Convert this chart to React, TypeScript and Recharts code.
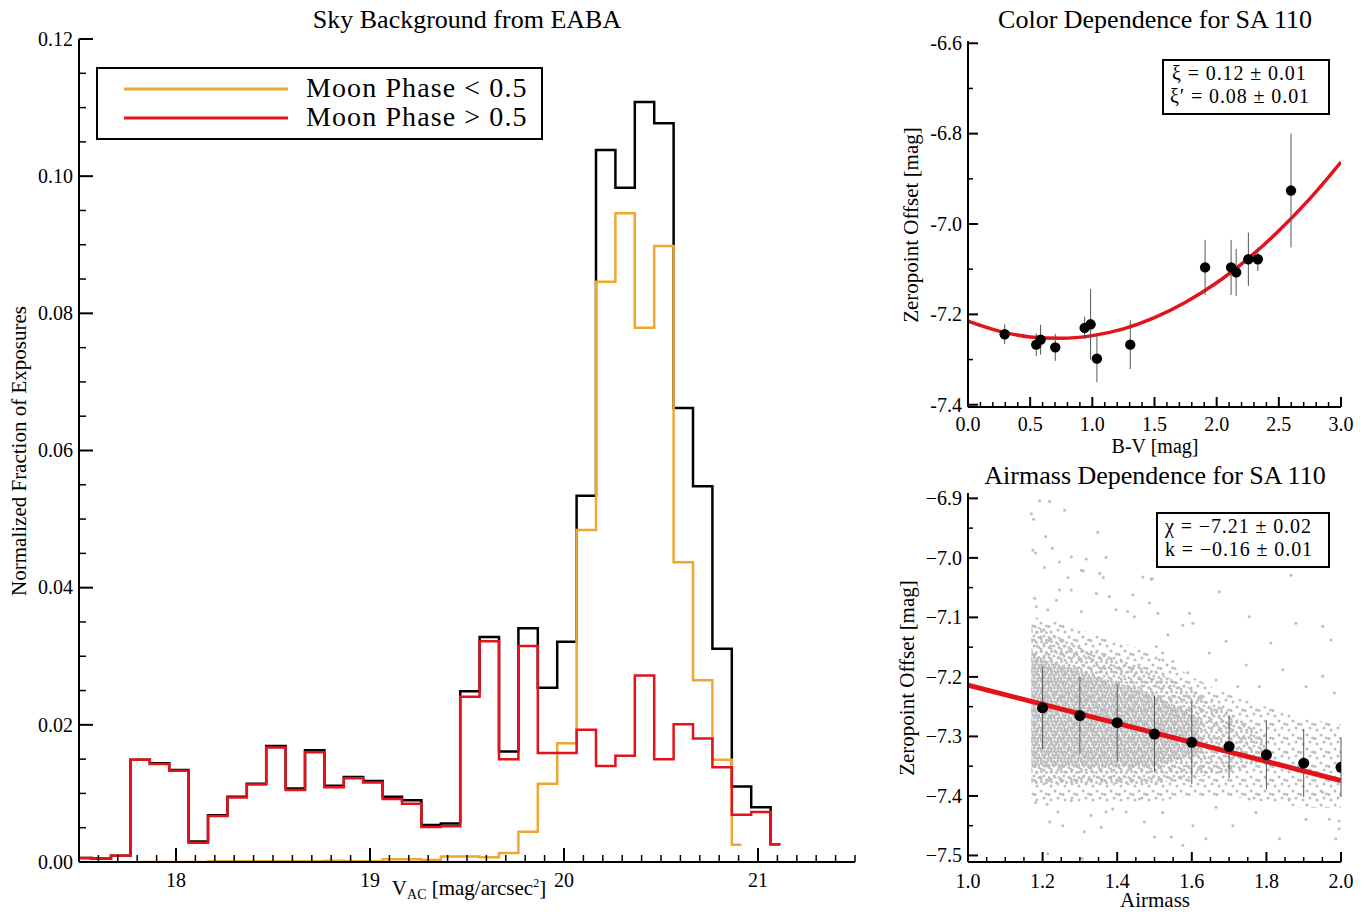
import React from 'react';
import {
  LineChart, Line, ComposedChart, Scatter, ErrorBar, Area, XAxis, YAxis,
} from 'recharts';

const SERIF = '"Liberation Serif", "Times New Roman", serif';
const ORANGE = '#f0a72f';
const RED = '#e3121b';
const CLOUD = '#bdbdbd';

// ---- Sky background from EABA (bin centres, 0.1 mag bins) ----
const vacBins = [
  17.415, 17.515, 17.615, 17.715, 17.815, 17.915, 18.015, 18.115, 18.215, 18.315,
  18.415, 18.515, 18.615, 18.715, 18.815, 18.915, 19.015, 19.115, 19.215, 19.315,
  19.415, 19.515, 19.615, 19.715, 19.815, 19.915, 20.015, 20.115, 20.215, 20.315,
  20.415, 20.515, 20.615, 20.715, 20.815, 20.915, 21.015, 21.115,
];
const fracAll = [
  0.0006, 0.0006, 0.0005, 0.0009, 0.0149, 0.0144, 0.0134, 0.0030, 0.0068, 0.0095,
  0.0114, 0.0169, 0.0107, 0.0163, 0.0111, 0.0124, 0.0118, 0.0095, 0.0090, 0.0054,
  0.0056, 0.0249, 0.0328, 0.0161, 0.0341, 0.0254, 0.0321, 0.0534, 0.1038, 0.0983,
  0.1108, 0.1077, 0.0662, 0.0548, 0.0311, 0.0110, 0.0080, 0.0026,
];
// Moon Phase < 0.5
const fracDark = [
  null, null, null, null, 0.0000, 0.0000, 0.0000, 0.0000, 0.0001, 0.0001,
  0.0001, 0.0001, 0.0001, 0.0001, 0.0002, 0.0001, 0.0001, 0.0004, 0.0004, 0.0003,
  0.0008, 0.0008, 0.0007, 0.0013, 0.0044, 0.0114, 0.0173, 0.0484, 0.0846, 0.0946,
  0.0779, 0.0898, 0.0437, 0.0265, 0.0149, 0.0025, null, null,
];
// Moon Phase > 0.5
const fracBright = [
  0.0006, 0.0006, 0.0005, 0.0009, 0.0149, 0.0143, 0.0133, 0.0028, 0.0067, 0.0094,
  0.0113, 0.0167, 0.0105, 0.0160, 0.0109, 0.0122, 0.0116, 0.0092, 0.0085, 0.0051,
  0.0052, 0.0241, 0.0322, 0.0150, 0.0315, 0.0159, 0.0159, 0.0193, 0.0140, 0.0155,
  0.0272, 0.0150, 0.0201, 0.0180, 0.0138, 0.0069, 0.0073, 0.0026,
];
const histMajorX = [18, 19, 20, 21];
const histMajorY = [0, 0.02, 0.04, 0.06, 0.08, 0.1, 0.12];

// ---- Color dependence for SA 110 ----
const colorBV = [0.295, 0.549, 0.584, 0.702, 0.938, 0.986, 1.037, 1.305, 1.907, 2.116, 2.157, 2.255, 2.331, 2.598];
const colorZp = [-7.244, -7.267, -7.256, -7.273, -7.230, -7.222, -7.298, -7.267, -7.096, -7.096, -7.107, -7.078, -7.078, -6.926];
const colorErr = [0.022, 0.025, 0.033, 0.030, 0.025, 0.078, 0.052, 0.054, 0.061, 0.061, 0.052, 0.059, 0.026, 0.126];
const colorFitBV = [0, 0.25, 0.5, 0.75, 1.0, 1.25, 1.5, 1.75, 2.0, 2.25, 2.5, 2.75, 3.0];
const colorFitZp = [-7.215, -7.237, -7.250, -7.253, -7.247, -7.232, -7.207, -7.173, -7.130, -7.077, -7.015, -6.944, -6.863];
const colorMajorX = [0, 0.5, 1, 1.5, 2, 2.5, 3];
const colorMajorY = [-7.4, -7.2, -7.0, -6.8, -6.6];

// ---- Airmass dependence for SA 110 ----
const binAirmass = [1.2, 1.3, 1.4, 1.5, 1.6, 1.7, 1.8, 1.9, 2.0];
const binZp = [-7.252, -7.265, -7.277, -7.296, -7.310, -7.317, -7.331, -7.345, -7.352];
const binErr = [0.070, 0.065, 0.065, 0.064, 0.070, 0.053, 0.058, 0.057, 0.050];
const airFitX = [1.0, 2.0];
const airFitZp = [-7.214, -7.374];
// envelope of the individual exposures (sparse / medium / dense parts of the cloud)
const cloudAirmass = [1.17, 1.2, 1.3, 1.4, 1.5, 1.6, 1.7, 1.8, 1.9, 2.0];
const sparseTop = [-7.10, -7.10, -7.12, -7.14, -7.16, -7.20, -7.23, -7.25, -7.27, -7.28];
const sparseBottom = [-7.41, -7.41, -7.41, -7.41, -7.41, -7.40, -7.40, -7.41, -7.42, -7.42];
const midAirmass = [1.17, 1.2, 1.3, 1.4, 1.5, 1.6, 1.7, 1.8];
const midTop = [-7.11, -7.12, -7.15, -7.17, -7.19, -7.22, -7.26, -7.30];
const midBottom = [-7.38, -7.38, -7.38, -7.38, -7.38, -7.37, -7.36, -7.34];
const coreAirmass = [1.17, 1.2, 1.3, 1.4, 1.5, 1.62];
const coreTop = [-7.16, -7.17, -7.19, -7.21, -7.23, -7.27];
const coreBottom = [-7.35, -7.35, -7.35, -7.35, -7.35, -7.33];
const outliers: [number, number][] = [
  [1.192, -6.904], [1.219, -6.905], [1.170, -6.926], [1.176, -6.935], [1.259, -6.920], [1.208, -6.964],
  [1.348, -6.957], [1.174, -6.987], [1.181, -6.992], [1.226, -6.984], [1.245, -7.007], [1.277, -6.998],
  [1.317, -7.002], [1.370, -6.999], [1.304, -7.021], [1.309, -7.022], [1.268, -7.033], [1.205, -7.016],
  [1.245, -7.054], [1.353, -7.026], [1.363, -7.033], [1.469, -7.032], [1.491, -7.036], [1.344, -7.060],
  [1.379, -7.065], [1.277, -7.054], [1.237, -7.071], [1.442, -7.062], [1.487, -7.076], [1.179, -7.068],
  [1.183, -7.082], [1.304, -7.090], [1.397, -7.087], [1.428, -7.090], [1.446, -7.099], [1.214, -7.087],
  [1.509, -7.093], [1.494, -7.035], [1.674, -7.057], [1.754, -7.099], [1.594, -7.093], [1.576, -7.113],
  [1.603, -7.110], [1.879, -7.110], [1.973, -7.138], [1.692, -7.140], [1.647, -7.160], [1.812, -7.143],
  [1.536, -7.129], [1.522, -7.160], [1.746, -7.180], [1.723, -7.216], [1.781, -7.216], [1.844, -7.188],
  [1.906, -7.216], [1.951, -7.199], [1.982, -7.227], [1.549, -7.174], [1.589, -7.193], [1.665, -7.205],
  [1.505, -7.149], [1.513, -7.171], [1.866, -7.029], [1.951, -7.115],
  [1.181, -7.411], [1.212, -7.414], [1.241, -7.427], [1.219, -7.444], [1.254, -7.450], [1.312, -7.460],
  [1.357, -7.453], [1.330, -7.433], [1.388, -7.422], [1.424, -7.427], [1.460, -7.405], [1.473, -7.444],
  [1.500, -7.469], [1.277, -7.408], [1.214, -7.497], [1.306, -7.505], [1.370, -7.427], [1.406, -7.397],
  [1.522, -7.428], [1.603, -7.450], [1.665, -7.419], [1.710, -7.450], [1.772, -7.428], [1.835, -7.472],
  [1.906, -7.439], [1.969, -7.439], [1.576, -7.483], [1.638, -7.472], [1.545, -7.469], [1.986, -7.472],
  [1.754, -7.405], [1.861, -7.405], [1.951, -7.394], [1.995, -7.442], [1.995, -7.455],
];
const airMajorX = [1.0, 1.2, 1.4, 1.6, 1.8, 2.0];
const airMajorY = [-7.5, -7.4, -7.3, -7.2, -7.1, -7.0, -6.9];

// tables for recharts
const histData = vacBins.map((v, i) => ({ v, all: fracAll[i], dark: fracDark[i], bright: fracBright[i] }));
const colorPts = colorBV.map((x, i) => ({ x, y: colorZp[i], err: colorErr[i] }));
const colorFit = colorFitBV.map((x, i) => ({ x, y: colorFitZp[i] }));
const binPts = binAirmass.map((x, i) => ({ x, y: binZp[i], err: binErr[i] }));
const airFit = airFitX.map((x, i) => ({ x, y: airFitZp[i] }));
const sparseBand = cloudAirmass.map((x, i) => ({ x, band: [sparseBottom[i], sparseTop[i]] }));
const midBand = midAirmass.map((x, i) => ({ x, band: [midBottom[i], midTop[i]] }));
const coreBand = coreAirmass.map((x, i) => ({ x, band: [coreBottom[i], coreTop[i]] }));
const outlierPts = outliers.map(([x, y]) => ({ x, y }));

function steps(from: number, to: number, step: number) {
  const out: number[] = [];
  for (let k = 0; from + k * step <= to + step / 2; k++) out.push(Math.round((from + k * step) * 1e6) / 1e6);
  return out;
}

type Side = 'bottom' | 'top' | 'left' | 'right';
interface TickSpec {
  side: Side;
  majors: number[];
  major: number;
  minor: number;
  label?: (v: number) => string;
  gap?: number;
  size?: number;
}

function makeTick(spec: TickSpec) {
  return function TickMark(props: any) {
    const { x, y, payload } = props;
    const v = payload.value as number;
    const isMajor = spec.majors.some((m) => Math.abs(m - v) < 1e-6);
    const len = isMajor ? spec.major : spec.minor;
    const dx = spec.side === 'left' ? len : spec.side === 'right' ? -len : 0;
    const dy = spec.side === 'bottom' ? -len : spec.side === 'top' ? len : 0;
    const size = spec.size ?? 20;
    let text = null;
    if (isMajor && spec.label) {
      if (spec.side === 'bottom') {
        text = (
          <text x={x} y={y + (spec.gap ?? 25)} textAnchor="middle" fontFamily={SERIF} fontSize={size} fill="#000">
            {spec.label(v)}
          </text>
        );
      } else if (spec.side === 'left') {
        text = (
          <text x={x - (spec.gap ?? 6)} y={y + size * 0.34} textAnchor="end" fontFamily={SERIF} fontSize={size} fill="#000">
            {spec.label(v)}
          </text>
        );
      }
    }
    return (
      <g>
        <line x1={x} y1={y} x2={x + dx} y2={y + dy} stroke="#000" strokeWidth={isMajor ? 2 : 1.5} />
        {text}
      </g>
    );
  };
}

const frame = { stroke: '#000', strokeWidth: 2 };
const bare = { tickLine: false, tickSize: 0, tickMargin: 0, interval: 0 as const, axisLine: frame, allowDataOverflow: true };

const blackDot = (r: number) => (p: any) => <circle cx={p.cx} cy={p.cy} r={r} fill="#000" />;
const greyDot = (p: any) => <circle cx={p.cx} cy={p.cy} r={1.5} fill={CLOUD} />;

function SkyHistogram() {
  const tx = steps(17.5, 21.5, 0.1);
  const ty = steps(0, 0.12, 0.005);
  return (
    <LineChart width={870} height={915} data={histData} margin={{ top: 39, right: 15, bottom: 13, left: 19 }}>
      <XAxis {...bare} dataKey="v" type="number" domain={[17.5, 21.5]} ticks={tx} height={40}
        tick={makeTick({ side: 'bottom', majors: histMajorX, major: 14, minor: 7, label: (v) => String(v), gap: 25 })} />
      <XAxis {...bare} xAxisId="t" orientation="top" type="number" domain={[17.5, 21.5]} ticks={tx} height={0}
        tick={makeTick({ side: 'top', majors: histMajorX, major: 14, minor: 7 })} />
      <YAxis {...bare} type="number" domain={[0, 0.12]} ticks={ty} width={60}
        tick={makeTick({ side: 'left', majors: histMajorY, major: 14, minor: 7, label: (v) => v.toFixed(2), gap: 6 })} />
      <YAxis {...bare} yAxisId="r" orientation="right" type="number" domain={[0, 0.12]} ticks={ty} width={0}
        tick={makeTick({ side: 'right', majors: histMajorY, major: 14, minor: 7 })} />
      <Line dataKey="all" type="step" stroke="#000" strokeWidth={2.5} dot={false} activeDot={false} isAnimationActive={false} />
      <Line dataKey="dark" type="step" stroke={ORANGE} strokeWidth={2.5} dot={false} activeDot={false} isAnimationActive={false} />
      <Line dataKey="bright" type="step" stroke={RED} strokeWidth={2.5} dot={false} activeDot={false} isAnimationActive={false} />
    </LineChart>
  );
}

function ColorPanel() {
  const tx = steps(0, 3, 0.1);
  const ty = steps(-7.4, -6.6, 0.1);
  return (
    <ComposedChart width={480} height={460} margin={{ top: 41, right: 19, bottom: 23, left: 28 }}>
      <XAxis {...bare} dataKey="x" type="number" domain={[0, 3]} ticks={tx} height={30}
        tick={makeTick({ side: 'bottom', majors: colorMajorX, major: 10, minor: 5, label: (v) => v.toFixed(1), gap: 24 })} />
      <XAxis {...bare} xAxisId="t" orientation="top" type="number" domain={[0, 3]} ticks={tx} height={0}
        tick={makeTick({ side: 'top', majors: colorMajorX, major: 10, minor: 5 })} />
      <YAxis {...bare} dataKey="y" type="number" domain={[-7.405, -6.595]} ticks={ty} width={60}
        tick={makeTick({ side: 'left', majors: colorMajorY, major: 10, minor: 5, label: (v) => v.toFixed(1), gap: 6 })} />
      <YAxis {...bare} yAxisId="r" orientation="right" type="number" domain={[-7.405, -6.595]} ticks={ty} width={0}
        tick={makeTick({ side: 'right', majors: colorMajorY, major: 10, minor: 5 })} />
      <Line data={colorFit} dataKey="y" type="monotone" stroke={RED} strokeWidth={3.5} dot={false} activeDot={false} isAnimationActive={false} />
      <Scatter data={colorPts} dataKey="y" shape={blackDot(5.2)} isAnimationActive={false}>
        <ErrorBar dataKey="err" direction="y" width={0} stroke="#555" strokeWidth={1} />
      </Scatter>
    </ComposedChart>
  );
}

function AirmassPanel() {
  const tx = steps(1, 2, 0.05);
  const ty = steps(-7.5, -6.9, 0.05);
  return (
    <ComposedChart width={480} height={455} margin={{ top: 33, right: 19, bottom: 23, left: 28 }}>
      <defs>
        <pattern id="cloudSparse" width="14" height="14" patternUnits="userSpaceOnUse">
          <circle cx="3" cy="4" r="1.5" fill={CLOUD} />
          <circle cx="10" cy="2" r="1.5" fill={CLOUD} />
          <circle cx="7" cy="9" r="1.5" fill={CLOUD} />
          <circle cx="12.5" cy="12" r="1.5" fill={CLOUD} />
          <circle cx="1" cy="12.5" r="1.5" fill={CLOUD} />
        </pattern>
        <pattern id="cloudMid" width="10" height="10" patternUnits="userSpaceOnUse">
          <circle cx="1.5" cy="1.5" r="1.5" fill={CLOUD} />
          <circle cx="6.5" cy="2.5" r="1.5" fill={CLOUD} />
          <circle cx="4" cy="6" r="1.5" fill={CLOUD} />
          <circle cx="9" cy="7.5" r="1.5" fill={CLOUD} />
          <circle cx="1" cy="9" r="1.5" fill={CLOUD} />
        </pattern>
        <pattern id="cloudDense" width="10" height="10" patternUnits="userSpaceOnUse">
          <circle cx="1" cy="1" r="1.5" fill={CLOUD} />
          <circle cx="4.5" cy="1.5" r="1.5" fill={CLOUD} />
          <circle cx="8" cy="1" r="1.5" fill={CLOUD} />
          <circle cx="2.5" cy="4.5" r="1.5" fill={CLOUD} />
          <circle cx="6" cy="4.5" r="1.5" fill={CLOUD} />
          <circle cx="9.3" cy="5" r="1.5" fill={CLOUD} />
          <circle cx="1" cy="8" r="1.5" fill={CLOUD} />
          <circle cx="4.5" cy="8" r="1.5" fill={CLOUD} />
          <circle cx="7.8" cy="8.5" r="1.5" fill={CLOUD} />
        </pattern>
      </defs>
      <XAxis {...bare} dataKey="x" type="number" domain={[1, 2]} ticks={tx} height={30}
        tick={makeTick({ side: 'bottom', majors: airMajorX, major: 10, minor: 5, label: (v) => v.toFixed(1), gap: 26 })} />
      <XAxis {...bare} xAxisId="t" orientation="top" type="number" domain={[1, 2]} ticks={tx} height={0}
        tick={makeTick({ side: 'top', majors: airMajorX, major: 10, minor: 5 })} />
      <YAxis {...bare} dataKey="y" type="number" domain={[-7.511, -6.891]} ticks={ty} width={60}
        tick={makeTick({ side: 'left', majors: airMajorY, major: 10, minor: 5, label: (v) => v.toFixed(1).replace('-', '\u2212'), gap: 6 })} />
      <YAxis {...bare} yAxisId="r" orientation="right" type="number" domain={[-7.511, -6.891]} ticks={ty} width={0}
        tick={makeTick({ side: 'right', majors: airMajorY, major: 10, minor: 5 })} />
      <Area data={sparseBand} dataKey="band" type="linear" stroke="none" fill="url(#cloudSparse)" fillOpacity={1} dot={false} activeDot={false} isAnimationActive={false} />
      <Area data={midBand} dataKey="band" type="linear" stroke="none" fill="url(#cloudMid)" fillOpacity={1} dot={false} activeDot={false} isAnimationActive={false} />
      <Area data={coreBand} dataKey="band" type="linear" stroke="none" fill="url(#cloudDense)" fillOpacity={1} dot={false} activeDot={false} isAnimationActive={false} />
      <Scatter data={outlierPts} dataKey="y" shape={greyDot} isAnimationActive={false} />
      <Line data={airFit} dataKey="y" type="linear" stroke={RED} strokeWidth={5} dot={false} activeDot={false} isAnimationActive={false} />
      <Scatter data={binPts} dataKey="y" shape={blackDot(5.5)} isAnimationActive={false}>
        <ErrorBar dataKey="err" direction="y" width={0} stroke="#555" strokeWidth={1} />
      </Scatter>
    </ComposedChart>
  );
}

function Overlay() {
  const t = { fontFamily: SERIF, fill: '#000' };
  return (
    <svg width={1369} height={915} style={{ position: 'absolute', left: 0, top: 0, pointerEvents: 'none' }}>
      <text {...t} x={467} y={28} fontSize={26} textAnchor="middle">Sky Background from EABA</text>
      <text {...t} x={1155} y={28} fontSize={26} textAnchor="middle">Color Dependence for SA 110</text>
      <text {...t} x={1155} y={484} fontSize={26} textAnchor="middle">Airmass Dependence for SA 110</text>

      <text {...t} x={26} y={451} fontSize={21} textAnchor="middle" transform="rotate(-90 26 451)">Normalized Fraction of Exposures</text>
      <text {...t} x={469} y={895} fontSize={21} textAnchor="middle">
        V<tspan fontSize={14} dy={4}>AC</tspan>
        <tspan dy={-4}> [mag/arcsec</tspan>
        <tspan fontSize={12} dy={-8}>2</tspan>
        <tspan dy={8}>]</tspan>
      </text>
      <text {...t} x={918} y={225} fontSize={21} textAnchor="middle" transform="rotate(-90 918 225)">Zeropoint Offset [mag]</text>
      <text {...t} x={1155} y={453} fontSize={20} textAnchor="middle">B-V [mag]</text>
      <text {...t} x={914} y={678} fontSize={21} textAnchor="middle" transform="rotate(-90 914 678)">Zeropoint Offset [mag]</text>
      <text {...t} x={1155} y={907} fontSize={21} textAnchor="middle">Airmass</text>

      {/* legend, main panel */}
      <rect x={97} y={68} width={445} height={71} fill="#fff" stroke="#000" strokeWidth={2} />
      <line x1={124} y1={89} x2={288} y2={89} stroke={ORANGE} strokeWidth={3} />
      <line x1={124} y1={118} x2={288} y2={118} stroke={RED} strokeWidth={3} />
      <text {...t} x={306} y={97} fontSize={28} letterSpacing={1.1}>Moon Phase &lt; 0.5</text>
      <text {...t} x={306} y={126} fontSize={28} letterSpacing={1.1}>Moon Phase &gt; 0.5</text>

      {/* fit boxes */}
      <rect x={1163} y={60} width={166} height={54} fill="#fff" stroke="#000" strokeWidth={2} />
      <text {...t} x={1172} y={80} fontSize={20} letterSpacing={0.9}>ξ = 0.12 ± 0.01</text>
      <text {...t} x={1170} y={103} fontSize={20} letterSpacing={0.9}>ξ′ = 0.08 ± 0.01</text>
      <rect x={1157} y={513} width={172} height={54} fill="#fff" stroke="#000" strokeWidth={2} />
      <text {...t} x={1165} y={533} fontSize={20} letterSpacing={0.9}>χ = −7.21 ± 0.02</text>
      <text {...t} x={1165} y={556} fontSize={20} letterSpacing={0.9}>k = −0.16 ± 0.01</text>
    </svg>
  );
}

export default function App() {
  return (
    <div style={{ position: 'absolute', left: 0, top: 0, width: 1369, height: 915, background: '#fff' }}>
      <div style={{ position: 'absolute', left: 0, top: 0 }}>
        <SkyHistogram />
      </div>
      <div style={{ position: 'absolute', left: 880, top: 0 }}>
        <ColorPanel />
      </div>
      <div style={{ position: 'absolute', left: 880, top: 460 }}>
        <AirmassPanel />
      </div>
      <Overlay />
    </div>
  );
}
